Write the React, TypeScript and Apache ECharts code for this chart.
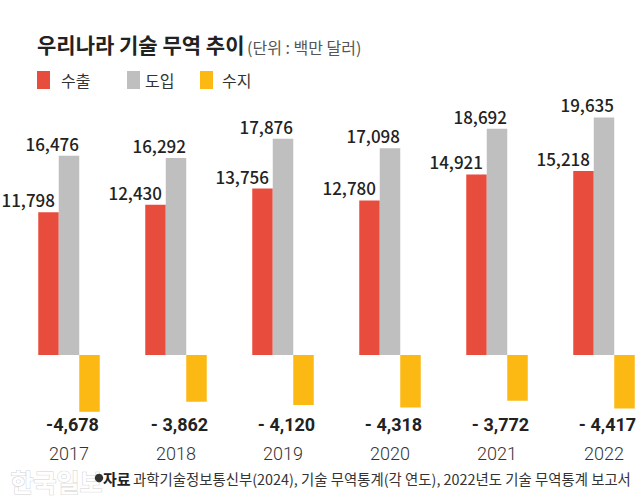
import React, { useEffect, useRef } from "react";
import * as echarts from "echarts";

const years = ["2017", "2018", "2019", "2020", "2021", "2022"];
const exportsValues = [11798, 12430, 13756, 12780, 14921, 15218];
const importsValues = [16476, 16292, 17876, 17098, 18692, 19635];
const balanceValues = [-4678, -3862, -4120, -4318, -3772, -4417];
const seriesNames = ["수출", "도입", "수지"];
const colors = ["#E84C3D", "#BFBFBF", "#FDB913"];
const titleText = "우리나라 기술 무역 추이";
const unitText = "(단위 : 백만 달러)";
const sourceLabel = "자료";
const sourceText = "과학기술정보통신부(2024), 기술 무역통계(각 연도), 2022년도 기술 무역통계 보고서";
const watermarkText = "한국일보";

const FONT = "Noto Sans CJK KR";
const NUM_FONT = "Roboto";

const fmt = (v: number) => Math.abs(v).toLocaleString("en-US");
const negLabel = (i: number) => (i === 0 ? "-" : "- ") + fmt(balanceValues[i]);

export default function App() {
  const ref = useRef<HTMLDivElement>(null);
  useEffect(() => {
    const chart = echarts.init(ref.current!, null, { renderer: "svg" });
    const valueLabel = (offsetX: number) => ({
      show: true,
      position: "top",
      distance: 4,
      align: "right",
      offset: [offsetX, 0],
      formatter: (p: any) => fmt(p.value),
      fontFamily: FONT,
      fontSize: 17,
      fontWeight: 500,
      color: "#222",
    });
    const legendLefts = [37, 127, 200];
    const legendPads = [6, 0, 4];
    chart.setOption({
      animation: false,
      textStyle: { fontFamily: FONT },
      title: [
        {
          text: titleText,
          left: 37,
          top: 33,
          padding: 0,
          textStyle: { fontFamily: FONT, fontSize: 21, fontWeight: "bold", color: "#222" },
        },
        {
          text: unitText,
          left: 247,
          top: 39,
          padding: 0,
          textStyle: { fontFamily: FONT, fontSize: 16, fontWeight: "normal", color: "#555" },
        },
      ],
      legend: seriesNames.map((name, i) => ({
        data: [name],
        left: legendLefts[i],
        top: 71,
        padding: 0,
        icon: "rect",
        itemWidth: 13,
        itemHeight: 18,
        selectedMode: false,
        textStyle: {
          fontFamily: FONT,
          fontSize: 16,
          color: "#333",
          padding: [0, 0, 0, legendPads[i]],
        },
      })),
      grid: {
        left: 15.5,
        right: -17.5,
        top: 113,
        bottom: 92,
        containLabel: false,
        outerBoundsMode: "none",
      },
      xAxis: [
        {
          type: "category",
          data: years,
          axisLine: { show: false },
          axisTick: { show: false },
          axisLabel: {
            interval: 0,
            margin: 3,
            padding: [0, 0, 0, 7],
            fontFamily: NUM_FONT,
            fontSize: 18,
            fontWeight: "bold",
            color: "#222",
            formatter: (_v: string, i: number) => negLabel(i),
          },
        },
        {
          type: "category",
          data: years,
          position: "bottom",
          axisLine: { show: false },
          axisTick: { show: false },
          axisLabel: {
            interval: 0,
            margin: 32,
            fontFamily: NUM_FONT,
            fontSize: 18,
            fontWeight: 300,
            color: "#333",
          },
        },
      ],
      yAxis: { type: "value", min: -4700, max: 20000, show: false },
      series: [
        {
          name: seriesNames[0],
          type: "bar",
          data: exportsValues,
          barWidth: 20.5,
          barGap: "0%",
          itemStyle: { color: colors[0] },
          label: valueLabel(6.5),
        },
        {
          name: seriesNames[1],
          type: "bar",
          data: importsValues,
          barWidth: 20.5,
          barGap: "0%",
          itemStyle: { color: colors[1] },
          label: valueLabel(10),
        },
        {
          name: seriesNames[2],
          type: "bar",
          data: balanceValues,
          barWidth: 20.5,
          barGap: "0%",
          itemStyle: { color: colors[2] },
        },
      ],
      graphic: [
        {
          type: "text",
          left: 10,
          top: 468,
          z: 1,
          style: {
            text: watermarkText,
            fontFamily: FONT,
            fontSize: 25,
            fontWeight: "bold",
            fill: "#ffffff",
            stroke: "#d2d2d2",
            lineWidth: 1,
          },
        },
        {
          type: "circle",
          z: 5,
          shape: { cx: 99, cy: 478, r: 4.2 },
          style: { fill: "#333" },
        },
        {
          type: "text",
          z: 5,
          x: 103,
          y: 478,
          style: {
            text: sourceLabel,
            fontFamily: FONT,
            fontSize: 15,
            fontWeight: "bold",
            fill: "#222",
            verticalAlign: "middle",
          },
        },
        {
          type: "text",
          z: 5,
          x: 133,
          y: 478,
          style: {
            text: sourceText,
            fontFamily: FONT,
            fontSize: 14.4,
            fill: "#333",
            verticalAlign: "middle",
          },
        },
      ],
    });
    return () => chart.dispose();
  }, []);
  return (
    <div
      ref={ref}
      style={{ position: "fixed", left: 0, top: 0, width: 640, height: 504, background: "#fff" }}
    />
  );
}
